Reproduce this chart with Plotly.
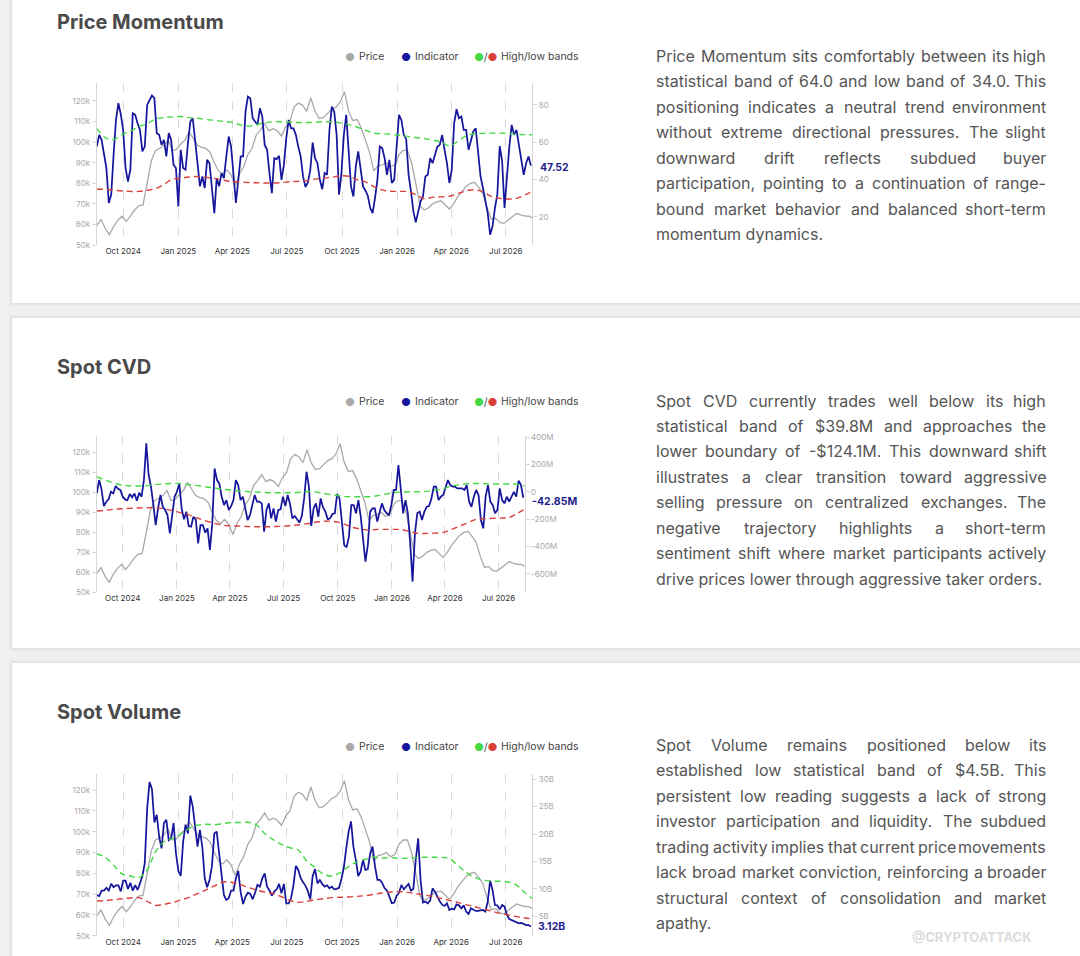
import os, glob, subprocess
import pandas as pd
import plotly.graph_objects as go

# ------------------------------------------------------------------ data
START = "2024-08-18"
price_dates = pd.date_range(START, periods=105, freq="7D")
ind_dates = pd.date_range(START, periods=182, freq="4D")
band_dates = pd.date_range(START, periods=53, freq="14D")

# BTC price, thousands of USD (weekly)
price_k = [
    59.5, 62.5, 58, 55, 59, 62, 64, 61.5, 64, 67,
    69, 69.5, 80, 91, 96, 97, 98.5, 101, 96, 96.5,
    99, 101, 105, 102, 98.5, 97.5, 97, 95, 90, 86,
    84.5, 86.5, 84, 79, 84.5, 88, 94, 97, 103.5, 106,
    109, 105.5, 106.5, 105.5, 103, 107.5, 110, 117, 119, 118,
    115, 121.5, 115, 111.5, 112, 114, 116, 117, 119.5, 124.5,
    115, 110.5, 111, 107, 101.5, 95, 86, 88.5, 89, 90,
    88, 89, 94, 96, 96, 90, 80, 69, 67, 68,
    70, 71, 71.5, 69.5, 67.5, 70, 73.5, 76, 78.5, 80,
    80.5, 78, 75, 68, 62.5, 63, 61, 60.5, 62.2, 63.5,
    65.3, 64.6, 64, 64, 62.8,
]

# Price Momentum indicator (every 4 days)
pm_ind = [
    57.7, 64.0, 61.3, 52.8, 46.2, 27.5, 31.9, 53.3, 72.0, 81.0,
    75.0, 66.6, 46.2, 39.0, 45.3, 75.5, 74.7, 70.2, 66.6, 55.1,
    57.7, 80.0, 82.7, 85.0, 83.6, 64.9, 64.0, 58.6, 61.3, 52.4,
    64.9, 61.3, 47.9, 46.2, 25.7, 56.0, 46.2, 45.3, 59.5, 71.1,
    72.9, 62.2, 48.8, 36.4, 41.7, 35.5, 50.6, 48.8, 36.4, 22.1,
    40.8, 36.4, 43.5, 40.8, 52.4, 63.1, 57.7, 41.7, 27.5, 39.9,
    52.4, 52.4, 76.4, 84.5, 83.6, 72.9, 71.1, 69.3, 78.2, 73.8,
    58.6, 56.0, 43.5, 32.8, 51.5, 51.0, 52.8, 39.9, 47.9, 62.2,
    72.0, 67.5, 67.5, 64.0, 57.7, 52.4, 41.7, 36.0, 38.5, 45.0,
    59.9, 51.5, 48.8, 39.9, 34.9, 43.5, 42.6, 66.6, 79.1, 76.4,
    64.0, 31.9, 43.5, 64.0, 74.7, 57.7, 36.4, 31.0, 47.1, 55.1,
    46.2, 36.4, 34.2, 31.4, 24.8, 22.1, 30.1, 39.9, 57.7, 56.9,
    51.5, 42.6, 50.6, 38.2, 39.9, 59.5, 74.7, 72.0, 64.0, 61.7,
    42.6, 33.7, 23.0, 17.1, 23.0, 28.4, 31.0, 41.7, 42.6, 51.5,
    48.8, 53.3, 57.7, 58.6, 64.0, 56.0, 48.8, 38.2, 45.3, 70.2,
    77.7, 72.9, 73.8, 66.6, 66.6, 56.0, 61.3, 65.8, 67.5, 52.4,
    41.7, 35.5, 29.3, 22.1, 10.5, 15.0, 24.8, 31.9, 58.0, 50.0,
    24.8, 41.7, 57.7, 69.3, 64.0, 66.6, 58.6, 50.6, 42.6, 48.8,
    52.4, 47.52,
]
pm_high = [
    67.5, 62.5, 61.5, 64, 66, 68.4, 70, 72.5, 73.2, 73.6,
    73.8, 73.2, 72.9, 72.2, 71.8, 71.2, 70.8, 69.5, 68.6, 69.5,
    70.4, 71, 71, 70.8, 70.6, 70.6, 70.7, 71, 71, 70.4,
    69.5, 68.2, 66.5, 64.9, 64.6, 64.3, 63.8, 63.2, 62.6, 62,
    61.2, 60.2, 58.1, 60.5, 63.5, 64.6, 64.8, 64.9, 64.9, 64.8,
    64.3, 64.1, 64.0,
]
pm_low = [
    35.0, 34.8, 34.4, 33.9, 33.7, 33.7, 34.3, 35.2, 37.5, 40.2,
    40.8, 41.4, 41.7, 41.2, 40.7, 39.8, 39.0, 38.8, 38.5, 38.3,
    38.2, 38.2, 38.4, 38.9, 39.1, 39.5, 40.3, 40.8, 41.3, 42.0,
    41.8, 40.0, 38.8, 36.3, 34.5, 33.8, 33.7, 33.6, 32.0, 29.8,
    30.5, 30.8, 31.1, 32.5, 34.0, 34.6, 33.5, 31.0, 30.0, 29.6,
    30.0, 31.8, 34.0,
]

# Spot CVD indicator, millions of USD
cvd_ind = [
    -11, 87, 19, -104, -72, -55, 1, -11, 43, 23,
    14, -35, -55, -60, -16, -40, -11, -65, -6, -35,
    87, 356, 124, 38, -96, -243, -121, -23, -109, -133,
    -170, -304, -170, -35, 1, 62, -121, -201, -145, -250,
    -255, -182, -201, -377, -243, -243, -299, -267, -426, -231,
    172, 87, 62, -35, -96, -60, -133, -104, -60, 87,
    50, -60, -35, -121, -206, -170, -84, -23, -72, -72,
    -84, -292, -133, -84, -194, -121, -218, -133, -128, -35,
    -104, -23, -89, -194, -177, -206, -225, -177, -48, 148,
    40, -250, -121, -84, -182, -48, -114, -145, -201, -194,
    -162, -157, -16, -48, -206, -390, -407, -328, -96, -96,
    -157, -60, -182, -365, -512, -390, -145, -121, -121, -218,
    -145, -84, -133, -157, -170, -96, 14, 14, 197, 14,
    -157, -60, -157, -377, -658, -304, -157, -145, -206, -145,
    -109, -104, -48, 38, 38, -60, -35, -23, 38, 87,
    50, 38, 38, 26, 26, 26, 14, 50, -72, -109,
    -35, 14, -23, -206, -267, -35, 50, -72, -96, -157,
    -133, 26, -60, -84, -35, -72, -35, 1, -35, 82,
    50, -42.85,
]
cvd_high = [
    111, 87, 67, 50, 45, 43, 45, 53, 58, 62,
    62, 55, 48, 38, 31, 21, 16, 9, 4, -1,
    -3, -6, -6, -6, -6, -1, 4, -6, -16, -25,
    -33, -35, -35, -35, -28, -16, -6, -1, 1, 1,
    4, 14, 23, 43, 53, 60, 62, 60, 58, 58,
    58, 55, 39.8,
]
cvd_low = [
    -140, -135, -128, -123, -121, -118, -116, -116, -123, -135,
    -150, -165, -187, -209, -226, -241, -248, -250, -253, -255,
    -255, -255, -253, -250, -245, -238, -228, -219, -214, -219,
    -236, -260, -272, -280, -275, -275, -275, -277, -292, -304,
    -304, -302, -297, -275, -250, -226, -201, -196, -194, -192,
    -187, -157, -124.1,
]

# Spot Volume indicator, billions of USD
vol_ind = [
    8.89, 8.7, 9.7, 9.7, 10.2, 9.7, 10.95, 10.3, 10.65, 10.65,
    9.55, 11.5, 11.5, 10.0, 11.1, 9.7, 10.7, 9.8, 11.0, 12.35,
    14.7, 24.7, 29.5, 28.2, 22.1, 23.5, 19.5, 17.4, 22.0, 22.6,
    18.9, 19.2, 22.0, 16.5, 13.3, 12.35, 18.6, 21.7, 20.1, 27.0,
    25.0, 21.4, 17.7, 20.75, 17.6, 11.93, 10.3, 11.62, 14.1, 20.1,
    20.45, 16.5, 12.23, 8.89, 7.97, 8.28, 9.7, 9.7, 11.93, 13.3,
    9.3, 7.25, 8.58, 9.3, 9.07, 8.1, 9.3, 10.77, 10.41, 11.93,
    12.84, 10.41, 9.7, 8.77, 9.5, 9.92, 10.9, 9.19, 10.9, 7.37,
    7.37, 8.28, 10.7, 14.2, 13.45, 12.0, 11.2, 10.6, 9.6, 8.1,
    12.3, 13.6, 11.0, 11.62, 10.9, 10.41, 10.65, 10.1, 10.41, 9.92,
    10.0, 10.2, 11.8, 13.9, 17.4, 20.45, 22.3, 17.7, 15.3, 12.35,
    13.15, 15.3, 13.45, 13.6, 16.5, 17.7, 14.1, 11.62, 11.62, 11.1,
    10.1, 9.7, 8.58, 7.37, 7.5, 8.7, 9.3, 10.7, 9.92, 10.41,
    10.9, 9.7, 10.0, 15.3, 19.2, 11.62, 7.5, 7.67, 7.37, 7.85,
    10.1, 9.5, 8.58, 7.73, 7.12, 6.88, 7.37, 6.15, 6.4, 6.27,
    7.18, 7.0, 6.45, 7.0, 5.85, 5.42, 6.45, 6.15, 5.97, 5.97,
    6.03, 6.15, 5.85, 7.67, 11.5, 9.8, 7.06, 7.0, 6.27, 7.06,
    6.76, 5.24, 4.5, 4.33, 4.14, 4.02, 3.72, 3.78, 3.53, 3.41,
    3.41, 3.12,
]
vol_high = [
    16.37, 15.76, 14.36, 12.72, 12.35, 12.05, 13.45, 16.8, 18.6, 19.2,
    20.0, 21.05, 21.6, 21.8, 21.7, 21.9, 22.1, 22.1, 22.15, 21.7,
    20.1, 19.0, 18.1, 17.5, 17.1, 15.1, 13.9, 12.7, 12.35, 12.96,
    14.06, 14.97, 15.4, 15.76, 15.64, 15.7, 15.58, 15.58, 15.7, 15.76,
    15.76, 15.76, 15.5, 14.3, 13.0, 12.1, 11.6, 11.44, 11.38, 11.26,
    10.7, 9.3, 8.1,
]
vol_low = [
    7.79, 7.85, 8.03, 8.2, 8.34, 8.4, 7.73, 7.0, 7.18, 7.49,
    7.97, 8.46, 9.13, 9.8, 10.53, 11.26, 11.2, 10.83, 10.3, 9.8,
    9.44, 9.13, 8.58, 7.9, 7.55, 7.73, 8.03, 8.2, 8.4, 8.46,
    8.52, 8.64, 8.76, 9.0, 9.25, 9.44, 9.5, 9.37, 9.13, 8.89,
    8.64, 8.28, 7.9, 7.55, 7.12, 6.76, 6.33, 5.97, 5.54, 5.24,
    4.93, 4.69, 4.5,
]

# tick labels
x_tick_vals = ["2024-10-01", "2025-01-01", "2025-04-01", "2025-07-01",
               "2025-10-01", "2026-01-01", "2026-04-01", "2026-07-01"]
x_tick_text = ["Oct 2024", "Jan 2025", "Apr 2025", "Jul 2025",
               "Oct 2025", "Jan 2026", "Apr 2026", "Jul 2026"]
price_tick_vals = [50, 60, 70, 80, 90, 100, 110, 120]
price_tick_text = ["50k", "60k", "70k", "80k", "90k", "100k", "110k", "120k"]
pm_tick_vals = [20, 40, 60, 80]
pm_tick_text = ["20", "40", "60", "80"]
cvd_tick_vals = [-600, -400, -200, 0, 200, 400]
cvd_tick_text = ["-600M", "-400M", "-200M", "0", "200M", "400M"]
vol_tick_vals = [5, 10, 15, 20, 25, 30]
vol_tick_text = ["5B", "10B", "15B", "20B", "25B", "30B"]

titles = ["Price Momentum", "Spot CVD", "Spot Volume"]
last_labels = ["47.52", "-42.85M", "3.12B"]

pm_text = [
    "Price Momentum sits comfortably between its high",
    "statistical band of 64.0 and low band of 34.0. This",
    "positioning indicates a neutral trend environment",
    "without extreme directional pressures. The slight",
    "downward drift reflects subdued buyer",
    "participation, pointing to a continuation of range-",
    "bound market behavior and balanced short-term",
    "momentum dynamics.",
]
cvd_text = [
    "Spot CVD currently trades well below its high",
    "statistical band of $39.8M and approaches the",
    "lower boundary of -$124.1M. This downward shift",
    "illustrates a clear transition toward aggressive",
    "selling pressure on centralized exchanges. The",
    "negative trajectory highlights a short-term",
    "sentiment shift where market participants actively",
    "drive prices lower through aggressive taker orders.",
]
vol_text = [
    "Spot Volume remains positioned below its",
    "established low statistical band of $4.5B. This",
    "persistent low reading suggests a lack of strong",
    "investor participation and liquidity. The subdued",
    "trading activity implies that current price movements",
    "lack broad market conviction, reinforcing a broader",
    "structural context of consolidation and market",
    "apathy.",
]

# ------------------------------------------------------------------ styling / layout config
W, H = 1080, 956
BG = "#eef0f1"
C_PRICE = "#a9a9a9"
C_IND = "#16169c"
C_HIGH = "#44d944"
C_LOW = "#d9403a"
C_LABEL = "#1e1e8c"
AXIS_C = "#d6d6d6"
BODY_FONT = "Inter"


def px_x(x):
    return x / W


def px_y(y):
    return 1 - y / H


panels = [
    dict(title_py=22, legend_py=56.7, x0=96.8, x1=532.1, top=83.3, bottom=245,
         lrange=[50, 128.6], rrange=[5.0, 91.6],
         ind=pm_ind, high=pm_high, low=pm_low,
         rvals=pm_tick_vals, rtext=pm_tick_text,
         last=pm_ind[-1], label_px=538, label_shift=-2,
         text=pm_text, text_py=56.0),
    dict(title_py=367, legend_py=401.7, x0=96.8, x1=524.5, top=435.7, bottom=592.3,
         lrange=[50, 128.5], rrange=[-736, 412],
         ind=cvd_ind, high=cvd_high, low=cvd_low,
         rvals=cvd_tick_vals, rtext=cvd_tick_text,
         last=cvd_ind[-1], label_px=530, label_shift=-4,
         text=cvd_text, text_py=400.5),
    dict(title_py=712, legend_py=746.7, x0=96.8, x1=532.1, top=774.3, bottom=935.7,
         lrange=[50, 127.6], rrange=[1.46, 30.9],
         ind=vol_ind, high=vol_high, low=vol_low,
         rvals=vol_tick_vals, rtext=vol_tick_text,
         last=vol_ind[-1], label_px=536, label_shift=0,
         text=vol_text, text_py=745.0),
]

# ------------------------------------------------------------------ text measuring (for justified paragraphs)
FONT = None
try:
    from PIL import ImageFont
    path = None
    try:
        out = subprocess.run(["fc-match", "-f", "%{file}", "Inter:style=Regular"],
                             capture_output=True, text=True, timeout=10).stdout.strip()
        if out and os.path.basename(out).lower().startswith("inter"):
            path = out
    except Exception:
        path = None
    if path is None:
        cands = []
        for pat in ["/usr/share/fonts/**/*.*tf", "/usr/local/share/fonts/**/*.*tf",
                    os.path.expanduser("~/.fonts/**/*.*tf"),
                    os.path.expanduser("~/.local/share/fonts/**/*.*tf")]:
            cands += glob.glob(pat, recursive=True)
        cands = [p for p in cands if os.path.basename(p).lower().startswith("inter")
                 and "italic" not in p.lower()]

        def rank(p):
            b = os.path.basename(p).lower()
            if "regular" in b:
                return 0
            if "[" in b or "variable" in b:
                return 1
            return 2
        cands.sort(key=rank)
        if cands:
            path = cands[0]
    if path:
        FONT = ImageFont.truetype(path, 200)
except Exception:
    FONT = None

EM = {}
for ch, w in [("a", .55), ("b", .6), ("c", .55), ("d", .6), ("e", .57), ("f", .35), ("g", .6),
              ("h", .58), ("i", .24), ("j", .24), ("k", .52), ("l", .24), ("m", .87), ("n", .58),
              ("o", .58), ("p", .6), ("q", .6), ("r", .37), ("s", .52), ("t", .35), ("u", .58),
              ("v", .53), ("w", .79), ("x", .52), ("y", .53), ("z", .52), (".", .27), (",", .27),
              ("-", .45), ("$", .62), ("S", .62), ("P", .64), ("M", .86), ("C", .7), ("V", .68),
              ("D", .71), ("T", .62), ("B", .65)]:
    EM[ch] = w
for d in "0123456789":
    EM[d] = .62


def text_w(s, size=16):
    if FONT is not None:
        return FONT.getlength(s) / 200 * size
    return sum(EM.get(c, .58) for c in s) * size


# ------------------------------------------------------------------ figure
fig = go.Figure()
layout = dict(width=W, height=H, margin=dict(l=0, r=0, t=0, b=0),
              paper_bgcolor=BG, plot_bgcolor="white", showlegend=False,
              template="none", hovermode=False, font=dict(family=BODY_FONT))
shapes, annotations = [], []

# card backgrounds
cards = [(-20, 303), (318, 648), (663, 990)]
for (t, b) in cards:
    for k, a in [(3, 0.025), (1.5, 0.035)]:
        shapes.append(dict(type="rect", xref="paper", yref="paper", layer="below",
                           x0=px_x(12 - k), x1=1.05, y0=px_y(b + k), y1=px_y(t - k),
                           line=dict(width=0), fillcolor=f"rgba(0,0,0,{a})"))
    shapes.append(dict(type="rect", xref="paper", yref="paper", layer="below",
                       x0=px_x(12), x1=1.05, y0=px_y(b), y1=px_y(t),
                       line=dict(width=0), fillcolor="white"))


def ann(x, y, text, size, color, anchor="left", family=BODY_FONT, **kw):
    d = dict(xref="paper", yref="paper", x=px_x(x), y=px_y(y), text=text,
             showarrow=False, xanchor=anchor, yanchor="middle",
             font=dict(size=size, color=color, family=family))
    d.update(kw)
    annotations.append(d)


for n, p in enumerate(panels):
    xa = "x" if n == 0 else f"x{n + 1}"
    yl = f"y{2 * n + 1}" if n else "y"
    yr = f"y{2 * n + 2}"
    xkey = "xaxis" if n == 0 else f"xaxis{n + 1}"
    ylkey = "yaxis" if n == 0 else f"yaxis{2 * n + 1}"
    yrkey = f"yaxis{2 * n + 2}"

    fig.add_trace(go.Scatter(x=price_dates, y=price_k, mode="lines", xaxis=xa, yaxis=yl,
                             line=dict(color=C_PRICE, width=1.3)))
    fig.add_trace(go.Scatter(x=ind_dates, y=p["ind"], mode="lines", xaxis=xa, yaxis=yr,
                             line=dict(color=C_IND, width=1.75)))
    fig.add_trace(go.Scatter(x=band_dates, y=p["high"], mode="lines", xaxis=xa, yaxis=yr,
                             line=dict(color=C_HIGH, width=1.4, dash="6px,4px", shape="spline")))
    fig.add_trace(go.Scatter(x=band_dates, y=p["low"], mode="lines", xaxis=xa, yaxis=yr,
                             line=dict(color=C_LOW, width=1.4, dash="6px,4px", shape="spline")))

    dom_x = [px_x(p["x0"]), px_x(p["x1"])]
    layout[xkey] = dict(domain=dom_x, anchor=yl, type="date",
                        range=["2024-08-18", "2026-08-14"],
                        tickvals=x_tick_vals, ticktext=x_tick_text,
                        showgrid=True, gridcolor="#d9d9d9", griddash="dash", gridwidth=1,
                        showline=False, zeroline=False, ticks="",
                        tickfont=dict(size=8, color="#333333", family=BODY_FONT),
                        automargin=False, fixedrange=True)
    axis_common = dict(showgrid=False, zeroline=False, showline=True, linecolor=AXIS_C,
                       linewidth=1, ticks="outside", ticklen=4, tickcolor=AXIS_C,
                       tickfont=dict(size=8, color="#a8a8a8", family=BODY_FONT),
                       automargin=False, fixedrange=True)
    layout[ylkey] = dict(domain=[px_y(p["bottom"]), px_y(p["top"])], anchor=xa,
                         range=p["lrange"], tickvals=price_tick_vals,
                         ticktext=price_tick_text, side="left", **axis_common)
    layout[yrkey] = dict(overlaying=yl, anchor=xa, side="right", range=p["rrange"],
                         tickvals=p["rvals"], ticktext=p["rtext"], **axis_common)

    # title
    ann(55, p["title_py"], f"<b>{titles[n]}</b>", 20, "#4a4a4a")

    # legend
    ly = p["legend_py"]
    ann(349.6, ly, "●", 11, C_PRICE, anchor="center")
    ann(356.5, ly, "Price", 10.5, "#444444")
    ann(405.7, ly, "●", 11, C_IND, anchor="center")
    ann(413, ly, "Indicator", 10.5, "#444444")
    ann(486, ly, f'<span style="color:{C_HIGH}">●</span><span style="color:#555555">/</span>'
                 f'<span style="color:{C_LOW}">●</span>', 11, "#555555", anchor="center")
    ann(498.5, ly, "High/low bands", 10.5, "#444444")

    # last value label
    annotations.append(dict(xref="paper", yref=yr, x=px_x(p["label_px"]), y=p["last"],
                            text=f"<b>{last_labels[n]}</b>", showarrow=False,
                            xanchor="left", yanchor="middle", yshift=p["label_shift"],
                            font=dict(size=10.5, color=C_LABEL, family=BODY_FONT)))

    # justified paragraph
    X0, X1, LH = 655.0, 1047.0, 25.45
    lines = p["text"]
    for li, line in enumerate(lines):
        py = p["text_py"] + li * LH
        words = line.split()
        if li == len(lines) - 1 or len(words) == 1:
            ann(X0 - 1, py, line, 16, "#555555")
            continue
        ws = [text_w(w) for w in words]
        gap = (X1 - X0 - sum(ws)) / (len(words) - 1)
        cx = X0
        for k, (w, wd) in enumerate(zip(words, ws)):
            if k == len(words) - 1:
                ann(X1 + 1, py, w, 16, "#555555", anchor="right")
            else:
                ann(cx - 1, py, w, 16, "#555555")
            cx += wd + gap

# faint watermark
ann(1034, 937, "<b>@CRYPTOATTACK</b>", 13, "rgba(190,190,190,0.55)", anchor="right")

layout["shapes"] = shapes
layout["annotations"] = annotations
fig.update_layout(**layout)
fig.write_html(
    "out.html",
    config={"displayModeBar": False, "staticPlot": True},
    post_script=("document.body.style.margin='0';"
                 "document.body.style.padding='0';"
                 "document.documentElement.style.overflow='hidden';"
                 "document.body.style.overflow='hidden';"),
)
